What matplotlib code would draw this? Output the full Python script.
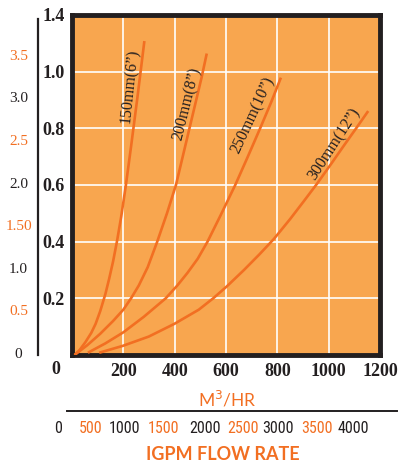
import matplotlib
matplotlib.use('Agg')
import matplotlib.pyplot as plt
from matplotlib.lines import Line2D

# ---- data ----
flow_150 = [10, 30, 52, 75, 92, 110, 130, 145, 160, 176, 192, 210, 230, 255, 282]
head_150 = [0, 0.018, 0.045, 0.078, 0.11, 0.155, 0.215, 0.27, 0.33, 0.405, 0.49, 0.60, 0.735, 0.91, 1.108]
flow_200 = [10, 60, 110, 160, 200, 230, 260, 295, 332, 370, 405, 430, 455, 480, 505, 525]
head_200 = [0, 0.035, 0.075, 0.12, 0.16, 0.2, 0.245, 0.31, 0.40, 0.50, 0.60, 0.695, 0.79, 0.885, 0.98, 1.064]
flow_250 = [62, 130, 200, 280, 365, 410, 450, 490, 528, 580, 636, 685, 733, 775, 814]
head_250 = [0.008, 0.041, 0.08, 0.135, 0.2, 0.245, 0.29, 0.34, 0.4, 0.495, 0.6, 0.7, 0.8, 0.89, 0.979]
flow_300 = [106, 197, 299, 399, 494, 550, 603, 670, 730, 787, 850, 905, 955, 1010, 1060, 1107, 1154]
head_300 = [0.008, 0.032, 0.065, 0.11, 0.16, 0.2, 0.242, 0.3, 0.355, 0.41, 0.48, 0.545, 0.605, 0.675, 0.74, 0.8, 0.861]

pipe_labels = ['150mm(6\u201d)', '200mm(8\u201d)', '250mm(10\u201d)', '300mm(12\u201d)']

x_ticks = [200, 400, 600, 800, 1000, 1200]
x_ticklabels = ['200', '400', '600', '800', '1000', '1200']
y_ticks = [0.2, 0.4, 0.6, 0.8, 1.0, 1.2]
y_ticklabels = ['0.2', '0.4', '0.6', '0.8', '1.0', '1.4']

outer_vals = [0, 0.5, 1.0, 1.5, 2.0, 2.5, 3.0, 3.5]
outer_labels = ['0', '0.5', '1.0', '1.50', '2.0', '2.5', '3.0', '3.5']

igpm_labels = ['0', '500', '1000', '1500', '2000', '2500', '3000', '3500', '4000']
igpm_pos = [-55, 74, 206, 355, 518, 666, 803, 955, 1095]   # positions on M3/HR axis

# ---- style ----
BG = '#F8A64F'
CURVE = '#F26F22'
ORANGE_TXT = '#F26F22'
DARK = '#231f20'
W, H = 401, 463
NARROW = ['Liberation Sans Narrow', 'Roboto Condensed', 'Roboto']

fig = plt.figure(figsize=(W / 100, H / 100), dpi=100)

def fx(px):
    return px / W

def fy(py):
    return 1 - py / H

ax = fig.add_axes([fx(72), fy(355), fx(380) - fx(72), fy(15) - fy(355)])
ax.set_facecolor(BG)
ax.set_xlim(0, 1200)
ax.set_ylim(0, 1.2)
for s in ax.spines.values():
    s.set_linewidth(3.5)
    s.set_color(DARK)

ax.set_xticks(x_ticks, x_ticklabels)
ax.set_yticks(y_ticks, y_ticklabels)
ax.tick_params(length=0, labelsize=13, pad=5)
for t in ax.get_xticklabels() + ax.get_yticklabels():
    t.set_fontfamily('Liberation Serif')
    t.set_fontweight('bold')
    t.set_color(DARK)
ax.tick_params(axis='x', pad=6)

for xv in x_ticks[:-1]:
    ax.axvline(xv, color='white', lw=1.2, zorder=1)
for yv in y_ticks[:-1]:
    ax.axhline(yv, color='white', lw=1.2, zorder=1)

for fl, hd in [(flow_150, head_150), (flow_200, head_200), (flow_250, head_250), (flow_300, head_300)]:
    ax.plot(fl, hd, color=CURVE, lw=1.9, zorder=3, solid_joinstyle='round', solid_capstyle='butt')

label_pos = [(226, 0.949, 84), (448, 0.888, 76), (705, 0.846, 65), (1021, 0.743, 57)]
for lab, (lx, ly, rot) in zip(pipe_labels, label_pos):
    ax.text(lx, ly, lab, rotation=rot, ha='center', va='center', fontsize=11.5,
            family='Liberation Serif', color=DARK, zorder=4, rotation_mode='anchor')

# "0" of the M3/HR axis, placed left of the frame
ax.text(-62, -0.05, '0', transform=ax.transData, ha='center', va='center', fontsize=13,
        family='Liberation Serif', fontweight='bold', color=DARK, clip_on=False)

# M3/HR title
ax.text(0.503, -0.132, 'M$^3$/HR', transform=ax.transAxes, ha='center', va='center',
        fontsize=12.5, color=ORANGE_TXT, family='Lato', clip_on=False)

# separator line
fig.add_artist(Line2D([fx(67), fx(397)], [fy(411), fy(411)], color=DARK, lw=1.4))

# IGPM scale
tr = ax.get_xaxis_transform()
for i, (lab, pos) in enumerate(zip(igpm_labels, igpm_pos)):
    col = ORANGE_TXT if i % 2 == 1 else DARK
    ax.text(pos, -0.2176, lab, transform=tr, ha='center', va='center', fontsize=11.5,
            family=NARROW, color=col, clip_on=False)
ax.text(-300, -0.2176, '0', transform=tr, ha='center', va='center', fontsize=11.5,
        family=NARROW, color=ORANGE_TXT, clip_on=False)

ax.text(0.49, -0.294, 'IGPM FLOW RATE', transform=ax.transAxes, ha='center', va='center',
        fontsize=13, color=ORANGE_TXT, family='Lato', fontweight='bold', clip_on=False)

# outer left scale
top_val = (353 - 15) / 85.2
bot_val = (353 - 355) / 85.2
axo = fig.add_axes([fx(38), fy(355), 0.0001, fy(15) - fy(355)])
axo.set_ylim(bot_val, top_val)
axo.set_xticks([])
axo.patch.set_visible(False)
for k in ['top', 'right', 'bottom']:
    axo.spines[k].set_visible(False)
axo.spines['left'].set_linewidth(1.6)
axo.spines['left'].set_color(DARK)
axo.spines['left'].set_bounds(bot_val, (353 - 19) / 85.2)
axo.set_yticks(outer_vals, outer_labels)
axo.tick_params(axis='y', length=0, pad=14, labelsize=11)
for i, t in enumerate(axo.get_yticklabels()):
    t.set_ha('center')
    t.set_fontfamily('Liberation Serif')
    t.set_color(ORANGE_TXT if i % 2 == 1 else DARK)

fig.savefig('out.png', dpi=100, facecolor='white')
